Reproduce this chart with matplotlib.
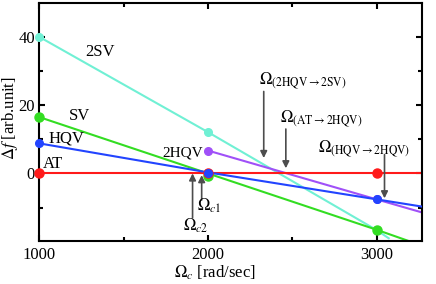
import matplotlib
matplotlib.use("Agg")
import matplotlib.pyplot as plt

plt.rcParams['font.family'] = ['Liberation Serif', 'DejaVu Serif']
plt.rcParams['mathtext.fontset'] = 'stix'

# data points (Omega_c in rad/sec, delta f in arb. unit)
x_pts = [1000, 2000, 3000]
at_pts = [0, 0, 0]
hqv_pts = [8.8, 0.0, -7.6]
sv_pts = [16.5, -0.8, -16.5]
tsv_pts = [40.0, 12.1, -16.6]
thqv_x = [2000, 3000]
thqv_pts = [6.7, -7.6]

# drawn line paths
at_line_x = [1000, 3267]
at_line_y = [0, 0]
hqv_line_x = [1000, 2000, 3000, 3267]
hqv_line_y = [8.8, 0.3, -7.6, -9.7]
sv_line_x = [1000, 3000, 3190]
sv_line_y = [16.5, -16.5, -19.8]
tsv_line_x = [1000, 2000, 3000, 3072]
tsv_line_y = [40.0, 12.1, -16.6, -19.0]
thqv_line_x = [2000, 3000, 3267]
thqv_line_y = [6.7, -7.6, -11.4]

c_at = '#ff1a1a'
c_hqv = '#2244ff'
c_sv = '#33dd22'
c_tsv = '#70f0d4'
c_thqv = '#a050f8'

fig = plt.figure(figsize=(4.36, 2.84), dpi=100)
ax = fig.add_axes([0.090, 0.1514, 0.877, 0.839])

lw = 1.5
ms = 5.5
ax.plot(tsv_line_x, tsv_line_y, color=c_tsv, lw=lw, zorder=2)
ax.plot(sv_line_x, sv_line_y, color=c_sv, lw=lw, zorder=2)
ax.plot(thqv_line_x, thqv_line_y, color=c_thqv, lw=lw, zorder=2)
ax.plot(at_line_x, at_line_y, color=c_at, lw=lw, zorder=2)
ax.plot(hqv_line_x, hqv_line_y, color=c_hqv, lw=lw, zorder=3)

ax.plot(x_pts, tsv_pts, 'o', color=c_tsv, ms=ms, clip_on=False, zorder=4)
ax.plot(x_pts, sv_pts, 'o', color=c_sv, ms=ms + 1, clip_on=False, zorder=4)
ax.plot(thqv_x, thqv_pts, 'o', color=c_thqv, ms=ms, clip_on=False, zorder=4)
ax.plot(x_pts, at_pts, 'o', color=c_at, ms=ms + 1, clip_on=False, zorder=5)
ax.plot(x_pts, hqv_pts, 'o', color=c_hqv, ms=ms, clip_on=False, zorder=6)

ax.set_xlim(1000, 3267)
ax.set_ylim(-19.8, 50)
ax.set_xticks([1000, 2000, 3000])
ax.set_xticks([1500, 2500], minor=True)
ax.set_yticks([0, 20, 40])
ax.set_yticks([-10, 10, 30], minor=True)
ax.tick_params(which='both', direction='in', top=True, right=True,
               labelsize=12, width=1.5, length=4)
ax.tick_params(axis='y', pad=3)
ax.tick_params(axis='x', pad=4)
ax.tick_params(which='minor', length=3)
for s in ax.spines.values():
    s.set_linewidth(1.5)

fs = 12
ax.text(1271, 35.6, '2SV', fontsize=fs, va='center')
ax.text(1178, 16.8, 'SV', fontsize=fs, va='center')
ax.text(1053, 10.2, 'HQV', fontsize=fs, va='center')
ax.text(1024, 2.9, 'AT', fontsize=fs, va='center')
ax.text(1972, 6.1, '2HQV', fontsize=fs - 1, va='center', ha='right')

acol = '0.3'
def arrow(x, y0, y1):
    ax.annotate('', xy=(x, y1), xytext=(x, y0),
                arrowprops=dict(arrowstyle='-|>', color=acol, lw=1.2,
                                mutation_scale=10, shrinkA=0, shrinkB=0))

ax.text(2304, 27.3, r'$\Omega_{(\mathrm{2HQV}\rightarrow\mathrm{2SV})}$', fontsize=fs, va='center')
arrow(2331, 24.0, 4.5)
ax.text(2427, 16.2, r'$\Omega_{(\mathrm{AT}\rightarrow\mathrm{2HQV})}$', fontsize=fs, va='center')
arrow(2462, 13.0, 1.5)
ax.text(2654, 7.3, r'$\Omega_{(\mathrm{HQV}\rightarrow\mathrm{2HQV})}$', fontsize=fs, va='center')
arrow(3047, 5.5, -7.3)

arrow(1909, -13.0, 0.0)
arrow(1963, -7.8, -0.5)
ax.text(1933, -9.5, r'$\Omega_{c1}$', fontsize=fs, va='center')
ax.text(1854, -15.4, r'$\Omega_{c2}$', fontsize=fs, va='center')

fig.text(215 / 436, 1 - 273 / 284, r'$\Omega_c$ [rad/sec]', fontsize=fs, ha='center', va='center')
fig.text(10 / 436, 1 - 118 / 284, r"$\Delta f$ [arb.unit]", fontsize=fs, ha='center', va='center', rotation=90)

fig.savefig('out.png', dpi=100)
